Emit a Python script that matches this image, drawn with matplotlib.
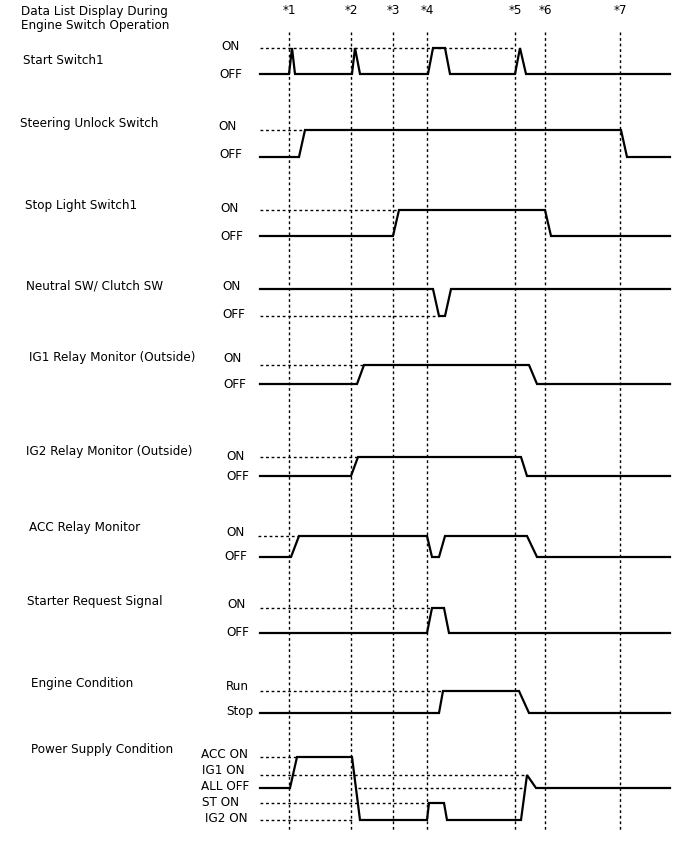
import matplotlib
matplotlib.use("Agg")
import matplotlib.pyplot as plt

# ---------------- data ----------------
event_labels = ["*1", "*2", "*3", "*4", "*5", "*6", "*7"]
event_times = [289, 351, 393, 427, 515, 545, 620]

signal_names = [
    "Start Switch1", "Steering Unlock Switch", "Stop Light Switch1",
    "Neutral SW/ Clutch SW", "IG1 Relay Monitor (Outside)",
    "IG2 Relay Monitor (Outside)", "ACC Relay Monitor",
    "Starter Request Signal", "Engine Condition", "Power Supply Condition",
]
level_names = [
    ["ON", "OFF"], ["ON", "OFF"], ["ON", "OFF"], ["ON", "OFF"], ["ON", "OFF"],
    ["ON", "OFF"], ["ON", "OFF"], ["ON", "OFF"], ["Run", "Stop"],
    ["ACC ON", "IG1 ON", "ALL OFF", "ST ON", "IG2 ON"],
]

# waveforms: time points and level indices (index into level_names)
wave_t = [
    [260, 289, 292, 295, 352, 355, 360, 428, 433, 445, 450, 515, 520, 526, 670],
    [260, 299, 305, 621, 627, 670],
    [260, 393, 399, 545, 551, 670],
    [260, 433, 439, 445, 451, 670],
    [260, 357, 364, 529, 537, 670],
    [260, 351, 358, 521, 527, 670],
    [260, 291, 299, 427, 432, 439, 445, 527, 537, 670],
    [260, 427, 432, 444, 449, 670],
    [260, 439, 443, 519, 529, 670],
    [260, 290, 297, 352, 360, 427, 429, 444, 447, 521, 527, 536, 670],
]
wave_lv = [
    [1, 1, 0, 1, 1, 0, 1, 1, 0, 0, 1, 1, 0, 1, 1],
    [1, 1, 0, 0, 1, 1],
    [1, 1, 0, 0, 1, 1],
    [0, 0, 1, 1, 0, 0],
    [1, 1, 0, 0, 1, 1],
    [1, 1, 0, 0, 1, 1],
    [1, 1, 0, 0, 1, 1, 0, 0, 1, 1],
    [1, 1, 0, 0, 1, 1],
    [1, 1, 0, 0, 1, 1],
    [2, 2, 0, 0, 4, 4, 3, 3, 4, 4, 1, 2, 2],
]
# dotted reference lines: (level index, start, end)
ref_lines = [
    [(0, 260, 515)],
    [(0, 260, 305)],
    [(0, 260, 399)],
    [(1, 260, 439)],
    [(0, 260, 364)],
    [(0, 260, 358)],
    [(0, 258, 299)],
    [(0, 260, 432)],
    [(0, 260, 443)],
    [(0, 260, 297), (1, 260, 527), (2, 358, 523), (3, 260, 429), (4, 260, 352)],
]

# ---------------- layout (pixels) ----------------
W, H = 688, 852
name_xy = [(23, 61), (20, 124), (25, 205), (26, 286), (29, 358),
           (26, 451), (29, 528), (27, 601), (31, 684), (31, 749)]
level_y = [
    [48, 74], [130, 157], [210, 236], [289, 316], [365, 384],
    [457, 476], [536, 557], [608, 633], [691, 713],
    [757, 775, 788, 803, 820],
]
level_label_xy = [
    [(221, 46), (219, 74)], [(218, 126), (219, 155)], [(220, 208), (220, 236)],
    [(222, 286), (222, 315)], [(223, 358), (223, 384)], [(226, 456), (226, 477)],
    [(226, 533), (224, 557)], [(227, 604), (226, 633)], [(226, 687), (226, 712)],
    [(201, 754), (202, 770), (201, 787), (202, 803), (205, 819)],
]

fs = 8.65
fig = plt.figure(figsize=(W / 100, H / 100), dpi=100)
ax = fig.add_axes([0, 0, 1, 1])
ax.set_xlim(0, W)
ax.set_ylim(H, 0)
ax.axis("off")

dot = (0, (2, 2))
# title
ax.text(21, 12, "Data List Display During", fontsize=fs, va="center", ha="left")
ax.text(21, 26, "Engine Switch Operation", fontsize=fs, va="center", ha="left")

# event markers
for lab, t in zip(event_labels, event_times):
    ax.text(t, 11, lab, fontsize=fs, ha="center", va="center")
    ax.plot([t, t], [32, 832], color="black", lw=1.0, ls=dot)

for i in range(len(signal_names)):
    nx, ny = name_xy[i]
    ax.text(nx, ny, signal_names[i], fontsize=fs, ha="left", va="center")
    for name, (lx, lyy) in zip(level_names[i], level_label_xy[i]):
        ax.text(lx, lyy, name, fontsize=fs, ha="left", va="center")
    ys = level_y[i]
    for lv, x0, x1 in ref_lines[i]:
        ax.plot([x0, x1], [ys[lv], ys[lv]], color="black", lw=1.0, ls=dot)
    ax.plot(wave_t[i], [ys[l] for l in wave_lv[i]], color="black", lw=1.6,
            solid_joinstyle="miter")

fig.savefig("out.png", dpi=100)
